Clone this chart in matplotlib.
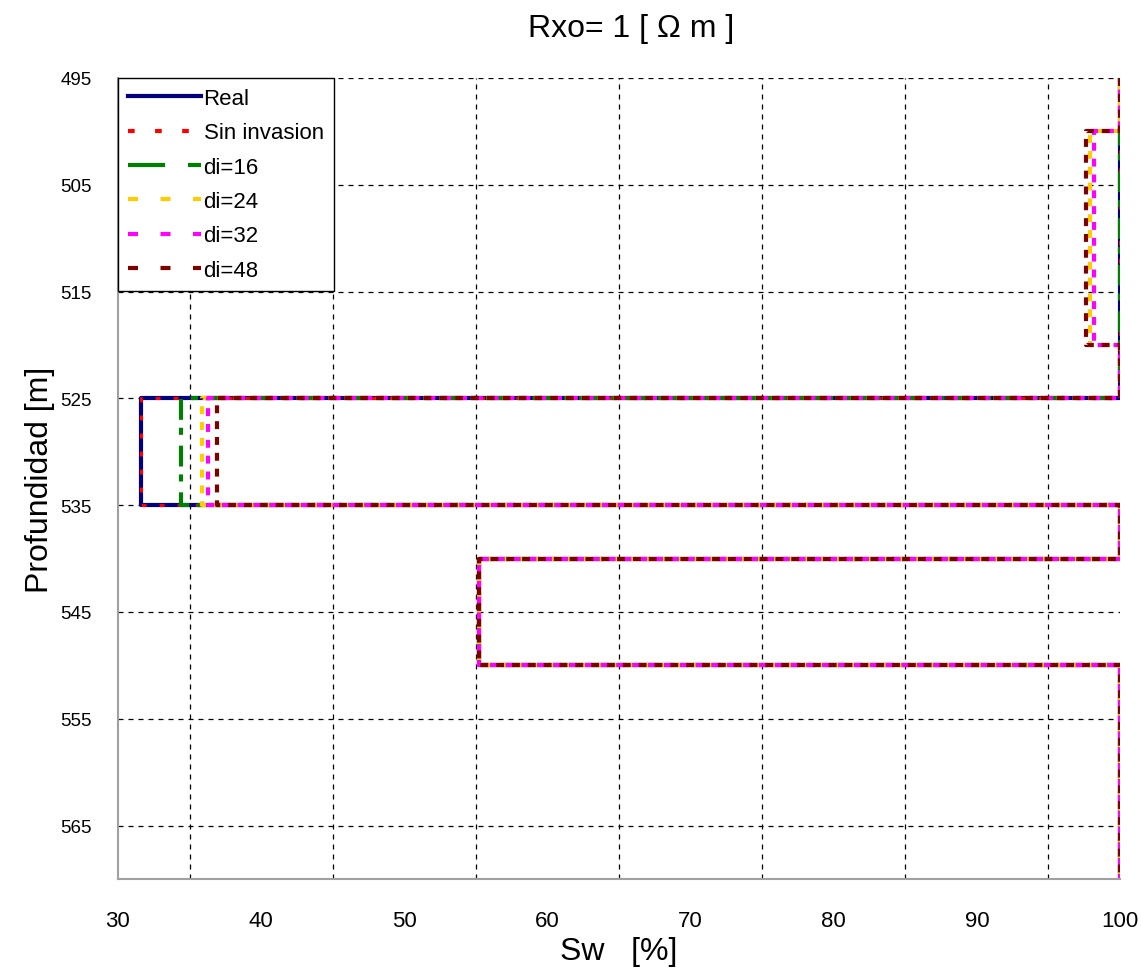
import numpy as np
import matplotlib.pyplot as plt
from matplotlib.lines import Line2D
from matplotlib.ticker import MultipleLocator, FixedLocator

plt.rcParams['font.family'] = ['Liberation Sans', 'DejaVu Sans']

# depth breakpoints (m) and Sw values (%) for each curve, as step profiles
depth_real = [495, 525, 525, 535, 535, 540, 540, 550, 550, 570]
sw_real = [100, 100, 31.6, 31.6, 100, 100, 55.2, 55.2, 100, 100]

depth_sin = depth_real
sw_sin = [100, 100, 31.6, 31.6, 100, 100, 55.2, 55.2, 100, 100]

depth_di16 = depth_real
sw_di16 = [100, 100, 34.4, 34.4, 100, 100, 55.2, 55.2, 100, 100]

depth_inv = [495, 500, 500, 520, 520, 525, 525, 535, 535, 540, 540, 550, 550, 570]
sw_di24 = [100, 100, 97.9, 97.9, 100, 100, 35.9, 35.9, 100, 100, 55.2, 55.2, 100, 100]
sw_di32 = [100, 100, 98.2, 98.2, 100, 100, 36.3, 36.3, 100, 100, 55.2, 55.2, 100, 100]
sw_di48 = [100, 100, 97.6, 97.6, 100, 100, 36.9, 36.9, 100, 100, 55.2, 55.2, 100, 100]

labels = ['Real', 'Sin invasion', 'di=16', 'di=24', 'di=32', 'di=48']
colors = ['#000080', '#ff0000', '#008000', '#ffcc00', '#ff00ff', '#800000']

fig = plt.figure(figsize=(11.41, 9.70), dpi=100)
ax = fig.add_axes([0.1034, 0.0928, 0.8782, 0.8258])

lw = 3.0
ax.plot(sw_real, depth_real, color=colors[0], lw=lw, ls='-')
ax.plot(sw_sin, depth_sin, color=colors[1], lw=2.2, ls=(0, (1.6, 4.3)))
ax.plot(sw_di16, depth_di16, color=colors[2], lw=lw, ls=(0, (5.0, 1.9, 1.7, 2.6)))
ax.plot(sw_di24, depth_inv, color=colors[3], lw=lw, ls=(1.9, (1.9, 1.9)))
ax.plot(sw_di32, depth_inv, color=colors[4], lw=lw, ls=(1.0, (1.9, 1.9)))
ax.plot(sw_di48, depth_inv, color=colors[5], lw=lw, ls=(0, (1.9, 1.9)))

# legend proxies use the longer dash patterns seen in the legend box
leg_styles = ['-', (0, (1.6, 4.9)), (0, (8.9, 5.5, 3.4, 5.0)), (0, (2.4, 5.4)),
              (0, (2.4, 5.4)), (0, (2.4, 5.4))]
handles = [Line2D([], [], color=c, lw=lw, ls=s) for c, s in zip(colors, leg_styles)]

ax.set_xlim(30, 100)
ax.set_ylim(570, 495)

ax.xaxis.set_major_locator(MultipleLocator(10))
ax.xaxis.set_minor_locator(FixedLocator([35, 45, 55, 65, 75, 85, 95]))
ax.yaxis.set_major_locator(FixedLocator([495, 505, 515, 525, 535, 545, 555, 565]))

ax.grid(False)
ax.grid(True, axis='x', which='minor', color='black', ls=(0, (4, 4)), lw=0.9)
ax.grid(True, axis='y', which='major', color='black', ls=(0, (4, 4)), lw=0.9)

ax.tick_params(axis='both', which='both', length=0)
ax.tick_params(axis='x', labelsize=16, pad=22)
ax.tick_params(axis='y', labelsize=13.5, pad=19)

for s in ['top', 'right']:
    ax.spines[s].set_visible(False)
for s in ['left', 'bottom']:
    ax.spines[s].set_color('#a0a0a0')
    ax.spines[s].set_linewidth(1.5)

ax.set_title('Rxo= 1 [ \u03a9 m ]', fontsize=23, pad=30, x=0.512)
ax.set_xlabel('Sw   [%]', fontsize=23, labelpad=4)
ax.set_ylabel('Profundidad [m]', fontsize=23, labelpad=4)

leg = ax.legend(handles, labels, loc='upper left', fontsize=16, handlelength=3.3,
                handletextpad=0.1, borderaxespad=0, borderpad=0.45, labelspacing=0.6,
                fancybox=False, framealpha=1, edgecolor='black')
leg.get_frame().set_linewidth(1.0)

fig.savefig('out.png', dpi=100)
